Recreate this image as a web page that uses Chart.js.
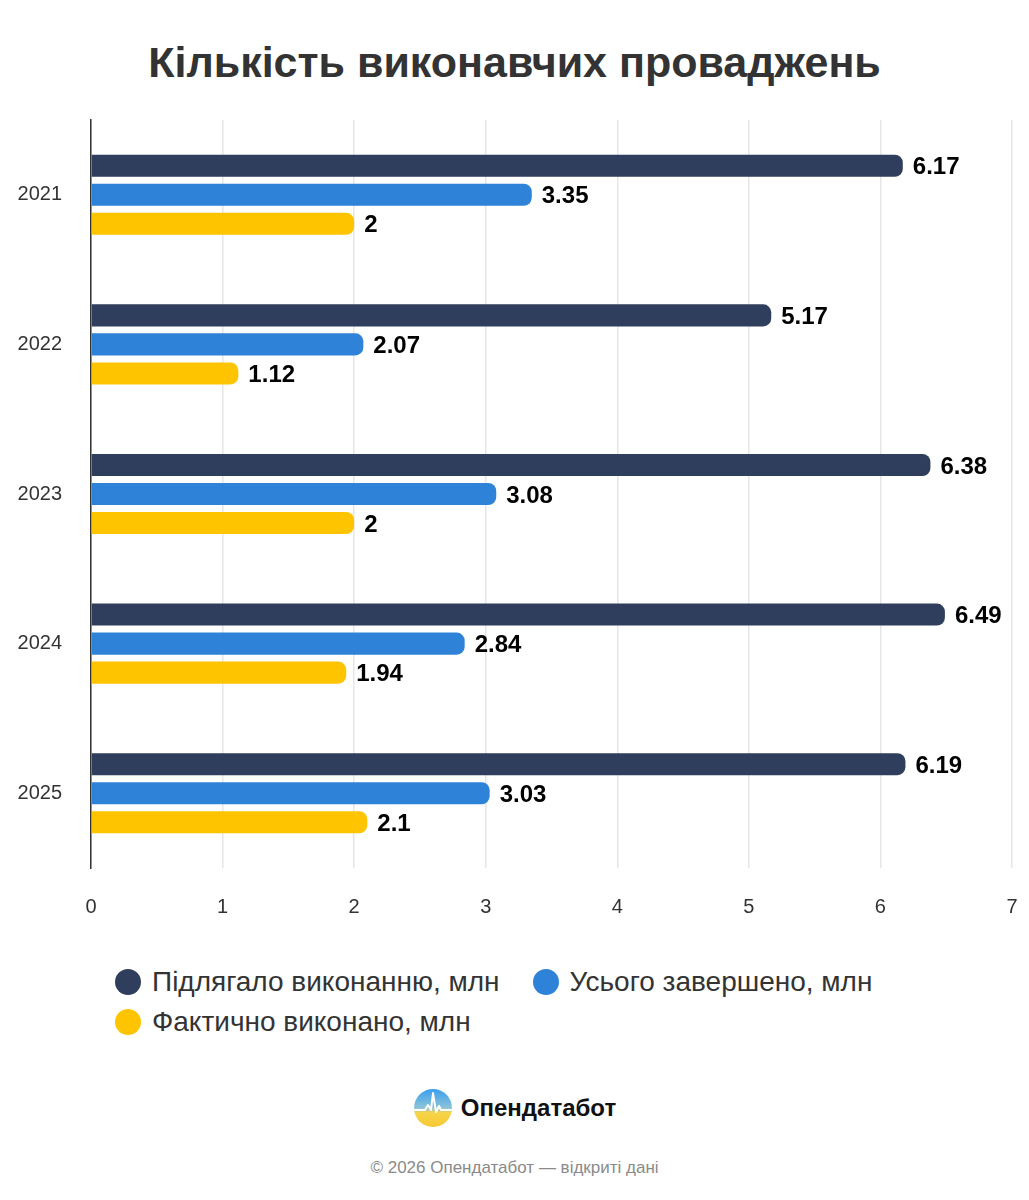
<!DOCTYPE html>
<html lang="uk">
<head>
<meta charset="utf-8">
<script src="https://cdn.jsdelivr.net/npm/chart.js@4.4.1/dist/chart.umd.min.js"></script>
<style>
  html, body { margin: 0; padding: 0; background: #fff; }
  body { width: 1029px; height: 1200px; position: relative; font-family: "Liberation Sans", Arial, sans-serif; color: #333; overflow: hidden; }
  #title { position: absolute; top: 38px; left: 0; width: 1029px; text-align: center; font-weight: bold; font-size: 43px; color: #333; }
  #wrap { position: absolute; top: 0; left: 0; width: 1029px; height: 940px; }
  .legend { position: absolute; left: 115px; font-size: 28px; color: #333; }
  .row { display: flex; align-items: center; height: 40px; }
  .item { display: flex; align-items: center; margin-right: 33px; }
  .dot { width: 26px; height: 26px; border-radius: 50%; margin-right: 11px; }
  #brand { position: absolute; top: 1088px; left: 0; width: 1029px; display: flex; justify-content: center; align-items: center; }
  #brand span { font-weight: bold; font-size: 24px; color: #111; margin-left: 8px; }
  #foot { position: absolute; top: 1158px; left: 0; width: 1029px; text-align: center; font-size: 17px; color: #8a8a8a; }
</style>
</head>
<body>
<div id="title">Кількість виконавчих проваджень</div>
<div id="wrap"><canvas id="chart" width="1029" height="940"></canvas></div>
<div class="legend" id="legend" style="top:962px"></div>
<div id="brand">
  <svg width="40" height="40" viewBox="0 0 40 40">
    <defs>
      <linearGradient id="g" x1="0" y1="0" x2="0" y2="1">
        <stop offset="0" stop-color="#3b9ff0"/>
        <stop offset="0.5" stop-color="#8cc4d8"/>
        <stop offset="0.62" stop-color="#f6d44a"/>
        <stop offset="1" stop-color="#f7c933"/>
      </linearGradient>
    </defs>
    <circle cx="20" cy="20" r="19" fill="url(#g)"/>
    <polyline points="1,22 12,22 15,17 18,22 20,5 23,24 26,18 28,22 39,22" fill="none" stroke="#fff" stroke-width="2" stroke-linejoin="round"/>
  </svg>
  <span>Опендатабот</span>
</div>
<div id="foot">© 2026 Опендатабот — відкриті дані</div>
<script>
const years = ["2021", "2022", "2023", "2024", "2025"];
const seriesNames = ["Підлягало виконанню, млн", "Усього завершено, млн", "Фактично виконано, млн"];
const seriesColors = ["#2f3e5c", "#2e83d9", "#ffc400"];
const dueValues = [6.17, 5.17, 6.38, 6.49, 6.19];
const doneValues = [3.35, 2.07, 3.08, 2.84, 3.03];
const actualValues = [2, 1.12, 2, 1.94, 2.1];
const xTicks = [0, 1, 2, 3, 4, 5, 6, 7];

const FONT = "'Liberation Sans', Arial, sans-serif";

// legend: 2 rows like the picture
const legendRows = [[0, 1], [2]];
const legendEl = document.getElementById("legend");
legendRows.forEach(r => {
  const row = document.createElement("div");
  row.className = "row";
  r.forEach(i => {
    const it = document.createElement("div");
    it.className = "item";
    it.innerHTML = `<div class="dot" style="background:${seriesColors[i]}"></div>${seriesNames[i]}`;
    row.appendChild(it);
  });
  legendEl.appendChild(row);
});

// value labels after the bars
const valueLabels = {
  id: "valueLabels",
  afterDatasetsDraw(chart) {
    const ctx = chart.ctx;
    ctx.save();
    ctx.font = "bold 24px " + FONT;
    ctx.fillStyle = "#000";
    ctx.textBaseline = "middle";
    ctx.textAlign = "left";
    chart.data.datasets.forEach((ds, i) => {
      chart.getDatasetMeta(i).data.forEach((bar, j) => {
        ctx.fillText(String(ds.data[j]), bar.x + 10, bar.y + 2);
      });
    });
    ctx.restore();
  }
};

const allData = [dueValues, doneValues, actualValues];

new Chart(document.getElementById("chart"), {
  type: "bar",
  data: {
    labels: years,
    datasets: allData.map((d, i) => ({
      label: seriesNames[i],
      data: d,
      backgroundColor: seriesColors[i],
      borderRadius: 8,
      borderSkipped: "start",
      categoryPercentage: 0.582,
      barPercentage: 0.76
    }))
  },
  options: {
    indexAxis: "y",
    responsive: false,
    animation: false,
    layout: { padding: { top: 120, right: 17, left: 0, bottom: 0 } },
    plugins: { legend: { display: false }, tooltip: { enabled: false } },
    scales: {
      x: {
        min: 0,
        max: 7,
        afterBuildTicks: s => { s.ticks = xTicks.map(v => ({ value: v })); },
        grid: { color: "#e6e6e6", lineWidth: 1.5, drawTicks: true, tickLength: 27, tickColor: "rgba(0,0,0,0)" },
        border: { display: false },
        ticks: { color: "#333", font: { family: FONT, size: 20 }, padding: 0 },
        afterFit: s => { s.height = 72; }
      },
      y: {
        grid: { display: false },
        border: { display: true, color: "#333", width: 1.5 },
        ticks: { color: "#333", font: { family: FONT, size: 20 }, padding: 21 },
        afterFit: s => { s.width = 91; }
      }
    }
  },
  plugins: [valueLabels]
});
</script>
</body>
</html>
